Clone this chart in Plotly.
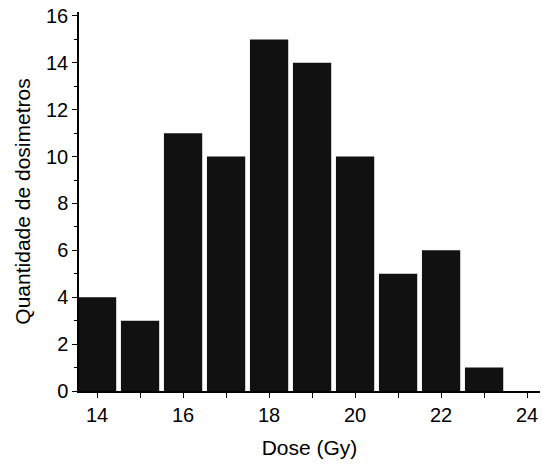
import plotly.graph_objects as go

dose_bins = [14, 15, 16, 17, 18, 19, 20, 21, 22, 23]
counts = [4, 3, 11, 10, 15, 14, 10, 5, 6, 1]
x_title = "Dose (Gy)"
y_title = "Quantidade de dosimetros"

fig = go.Figure(go.Bar(
    x=dose_bins, y=counts, width=0.89,
    marker=dict(color="#111111", line=dict(width=0)),
))

font = "Liberation Sans, Arial, sans-serif"
fig.update_layout(
    width=542, height=464,
    margin=dict(l=79, r=2, t=12, b=73),
    paper_bgcolor="white", plot_bgcolor="white",
    showlegend=False,
    font=dict(family=font, color="black", size=20),
    xaxis=dict(
        range=[13.58, 24.3], tickmode="linear", tick0=14, dtick=2,
        ticks="outside", ticklen=5, tickwidth=1, tickcolor="black",
        minor=dict(dtick=1, tick0=14, ticks="outside", ticklen=5, tickcolor="black", tickwidth=1),
        showline=True, linecolor="black", linewidth=1.5,
        showgrid=False, zeroline=False, automargin=False,
        ticklabeloverflow="allow",
        tickfont=dict(size=20),
        title=dict(text=x_title, font=dict(size=21), standoff=16),
    ),
    yaxis=dict(
        range=[0, 16.17], tickmode="linear", tick0=0, dtick=2,
        ticks="outside", ticklen=5, tickwidth=1, tickcolor="black",
        minor=dict(dtick=1, ticks="outside", ticklen=3, tickcolor="black", tickwidth=1),
        showline=True, linecolor="black", linewidth=1.5,
        showgrid=False, zeroline=False, automargin=False,
        ticklabeloverflow="allow",
        tickfont=dict(size=20),
        title=dict(text=y_title, font=dict(size=21), standoff=10),
    ),
)

# remove the default 8px page margin so the figure fills the window exactly
fig.write_html(
    "out.html",
    config={"displayModeBar": False},
    post_script="document.body.style.margin='0';",
)
